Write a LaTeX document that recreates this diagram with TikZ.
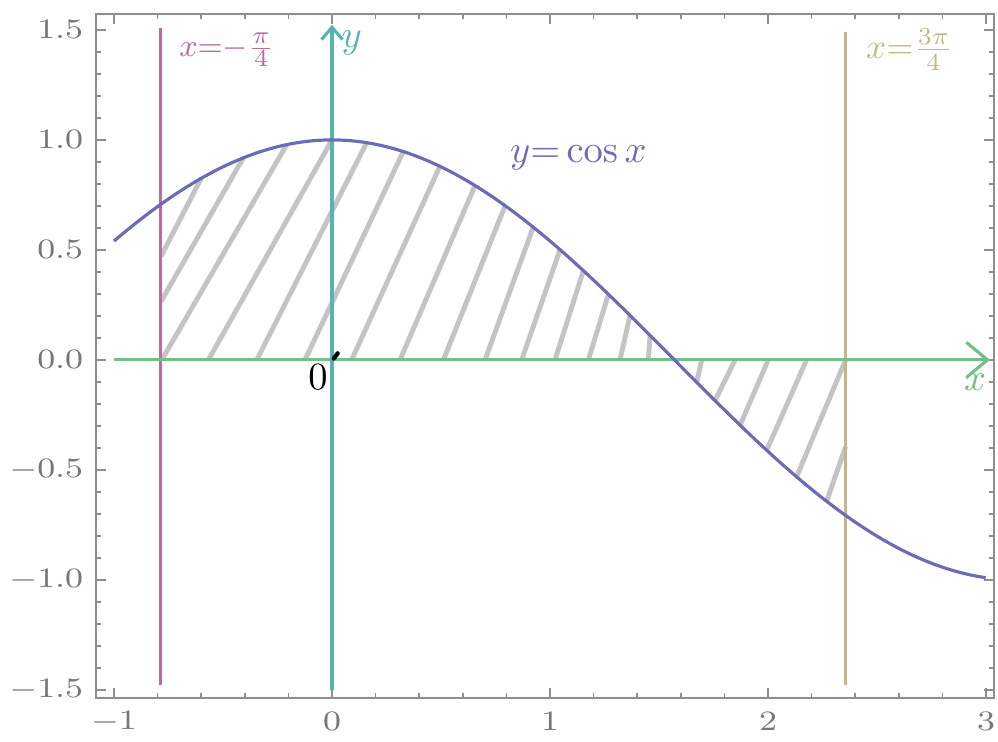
\documentclass[tikz,border=0pt]{standalone}
\usepackage{amsmath}
\usepackage{tikz}
\usetikzlibrary{arrows.meta}
\definecolor{curvecol}{HTML}{6B6BB8}
\definecolor{leftcol}{HTML}{BF6A98}
\definecolor{yaxcol}{HTML}{58B4B4}
\definecolor{rightcol}{HTML}{C4B882}
\definecolor{xaxcol}{HTML}{74BF86}
\definecolor{hatchcol}{HTML}{C4C4C4}
\definecolor{framecol}{HTML}{8E8E8E}
\definecolor{ticklab}{HTML}{777777}

\begin{document}
\begin{tikzpicture}[x=2.18cm,y=2.2cm,
  hatch/.style={hatchcol,line width=1.4pt},
  ticklabel/.style={ticklab,font=\fontsize{8.5}{10}\selectfont,xscale=1.2,inner sep=0pt},
  hand/.style={font=\fontsize{11}{13}\selectfont,inner sep=1pt}]
\useasboundingbox (-1.523,-1.736) rectangle (3.055,1.636);
\coordinate (o) at (0,0);
\foreach \a/\b in {-0.781/-0.208,-0.567/0,-0.345/0.159,-0.124/0.327,0.09/0.495,
  0.312/0.656,0.511/0.794,0.702/0.923,0.870/1.046,1.023/1.153,1.176/1.268,
  1.321/1.367,1.451/1.459,1.696/1.673,1.849/1.757,2.001/1.872,2.177/1.994,2.356/2.131}
  \draw[hatch](\a,0)--(\b,{cos(\b r)});
\draw[hatch](-0.785,0.47)--(-0.60,{cos(-0.60 r)})
(-0.785,0.265)--(-0.407,{cos(-0.407 r)})
(2.356,-0.394)--(2.269,{cos(2.269 r)});
\draw[framecol,line width=0.7pt](-1.083,-1.536)rectangle(3.037,1.573);
\foreach \i in {0,...,20}{
  \pgfmathsetmacro\tx{-1+0.2*\i}
  \draw[framecol,line width=0.5pt](\tx,-1.536)--++(0,0.023)
  (\tx,1.573)--++(0,-0.023);}
\foreach \i in {0,...,30}{
  \pgfmathsetmacro\ty{-1.5+0.1*\i}
  \draw[framecol,line width=0.5pt](-1.083,\ty)--++(0.023,0)
  (3.037,\ty)--++(-0.023,0);}
\foreach \x in {-1,0,1,2,3}{
  \draw[framecol,line width=0.5pt](\x,-1.536)--++(0,0.045)
  (\x,1.573)--++(0,-0.045);
  \node[ticklabel](xl\x) at (\x,-1.645){$\x$};}
\foreach \y in {-1.5,-1.0,-0.5,0.0,0.5,1.0,1.5}{
  \draw[framecol,line width=0.5pt](-1.083,\y)--++(0.046,0)
  (3.037,\y)--++(-0.046,0);
  \node[ticklabel,anchor=east](yl\y) at (-1.138,\y){$\y$};}
\draw[leftcol,line width=0.9pt]({-pi/4},-1.48)--({-pi/4},1.51);
\draw[rightcol,line width=0.9pt]({3*pi/4},-1.48)--({3*pi/4},1.49);
\draw[xaxcol,line width=0.9pt,-{Straight Barb[length=6pt,width=10pt]}](-1,0)--(3.018,0);
\draw[yaxcol,line width=0.9pt,-{Straight Barb[length=3.5pt,width=6pt]}](0,-1.5)--(0,1.523);
\draw[curvecol,line width=0.9pt,domain=-1:3,samples=120,smooth]plot(\x,{cos(\x r)});
\draw[line width=1.2pt,line cap=round](0.008,0.006)--(0.026,0.03);
\node[hand,leftcol,anchor=west,font=\fontsize{9.5}{11}\selectfont](lablft) at (-0.72,1.41){$x{=}{-}\frac{\pi}{4}$};
\node[hand,yaxcol](laby) at (0.09,1.44){$y$};
\node[hand,rightcol,anchor=west,font=\fontsize{10}{12}\selectfont](labrgt) at (2.431,1.41){$x{=}\frac{3\pi}{4}$};
\node[hand,curvecol](labcos) at (1.13,0.92){$y{=}\cos x$};
\node[hand,xaxcol](labx) at (2.95,-0.1){$x$};
\node[hand](labo) at (-0.064,-0.08){$0$};
\end{tikzpicture}
\end{document}
